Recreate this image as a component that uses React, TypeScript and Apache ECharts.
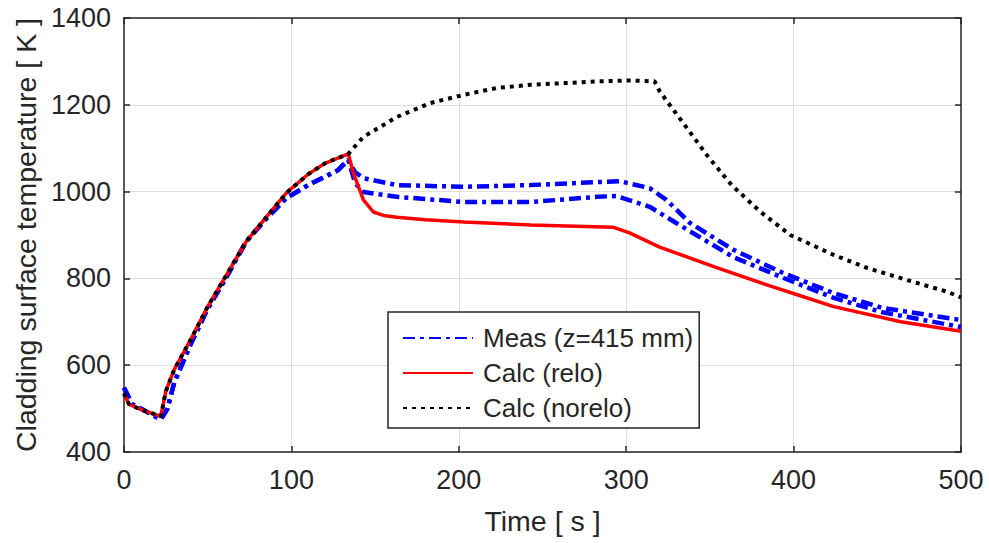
import React, { useEffect, useRef } from "react";
import * as echarts from "echarts";

const FONT = '"Liberation Sans", Arial, Helvetica, sans-serif';
const INK = "#262626";

// Measured (two thermocouples at z=415 mm)
const meas1T = [0, 5, 10, 22, 26, 30, 40, 50, 60, 73, 85, 97, 110, 120, 128, 134, 138, 143, 163, 203, 243, 283, 296, 314, 324, 338, 364, 394, 424, 453, 500];
const meas1V = [548, 510, 500, 475, 500, 560, 650, 730, 795, 885, 938, 985, 1015, 1034, 1050, 1073, 1045, 1031, 1015, 1011, 1015, 1022, 1024, 1008, 981, 928, 866, 812, 766, 732, 704];
const meas2T = [0, 5, 10, 22, 26, 30, 40, 50, 60, 73, 85, 97, 110, 120, 128, 134, 138, 143, 163, 203, 243, 283, 294, 314, 334, 364, 394, 424, 453, 500];
const meas2V = [548, 510, 500, 475, 500, 560, 650, 730, 795, 885, 938, 985, 1015, 1034, 1050, 1073, 1020, 999, 988, 976, 976, 988, 990, 965, 918, 849, 801, 755, 722, 688];

// Calc (relo)
const reloT = [0, 3, 10, 22, 25, 30, 40, 50, 60, 73, 85, 97, 110, 120, 134, 137, 143, 149, 155, 163, 180, 203, 243, 292, 302, 320, 354, 384, 404, 424, 464, 500];
const reloV = [535, 510, 498, 482, 540, 590, 660, 735, 800, 885, 941, 997, 1040, 1065, 1087, 1043, 981, 953, 945, 941, 935, 930, 923, 918, 905, 872, 825, 785, 760, 735, 700, 678];

// Calc (norelo)
const noreloT = [0, 3, 10, 22, 25, 30, 40, 50, 60, 73, 85, 97, 110, 120, 134, 143, 163, 183, 203, 223, 243, 263, 283, 302, 317, 320, 335, 349, 363, 380, 398, 424, 444, 468, 492, 500];
const noreloV = [535, 510, 498, 482, 540, 590, 660, 735, 800, 885, 941, 997, 1040, 1065, 1087, 1126, 1172, 1204, 1223, 1239, 1246, 1250, 1254, 1256, 1254, 1231, 1153, 1080, 1015, 954, 900, 854, 824, 796, 769, 756];

const xTicks = { min: 0, max: 500, interval: 100 };
const yTicks = { min: 400, max: 1400, interval: 200 };

const pairs = (t: number[], v: number[]) => t.map((x, i) => [x, v[i]]);

export default function App() {
  const ref = useRef<HTMLDivElement>(null);
  useEffect(() => {
    if (!ref.current) return;
    const chart = echarts.init(ref.current, undefined, { renderer: "svg" });
    const axisLine = { show: true, onZero: false, lineStyle: { color: INK, width: 1.5 } };
    const axisTick = { show: true, inside: true, length: 6, lineStyle: { color: INK, width: 1.5 } };
    const blueLine = { color: "#0000ff", width: 4.5, type: [12, 5, 4, 5] as any, cap: "butt" as const };
    chart.setOption({
      animation: false,
      backgroundColor: "#ffffff",
      textStyle: { fontFamily: FONT },
      grid: { left: 124, top: 18, right: 28, bottom: 91, containLabel: false },
      xAxis: [
        {
          type: "value", ...xTicks, position: "bottom",
          name: "Time [ s ]", nameLocation: "middle", nameGap: 54,
          nameTextStyle: { fontSize: 28.5, color: INK, fontFamily: FONT },
          axisLine, axisTick,
          axisLabel: { fontSize: 27, color: INK, margin: 14, fontFamily: FONT, formatter: (v: number) => String(v) },
          splitLine: { show: true, lineStyle: { color: "#dedede", width: 1 } },
        },
        {
          type: "value", ...xTicks, position: "top",
          axisLine, axisTick, axisLabel: { show: false }, splitLine: { show: false },
        },
      ],
      yAxis: [
        {
          type: "value", ...yTicks, position: "left",
          name: "Cladding surface temperature [ K ]", nameLocation: "middle", nameGap: 82,
          nameTextStyle: { fontSize: 28.5, color: INK, fontFamily: FONT },
          axisLine, axisTick,
          axisLabel: { fontSize: 27, color: INK, margin: 13, fontFamily: FONT, formatter: (v: number) => String(v) },
          splitLine: { show: true, lineStyle: { color: "#dedede", width: 1 } },
        },
        {
          type: "value", ...yTicks, position: "right",
          axisLine, axisTick, axisLabel: { show: false }, splitLine: { show: false },
        },
      ],
      legend: {
        orient: "vertical",
        left: 388,
        top: 312,
        data: ["Meas (z=415 mm)", "Calc (relo)", "Calc (norelo)"],
        backgroundColor: "#ffffff",
        borderColor: INK,
        borderWidth: 1.5,
        borderRadius: 0,
        padding: [13, 6, 7, 14],
        itemWidth: 70,
        itemHeight: 14,
        itemGap: 9,
        itemStyle: { opacity: 0 },
        textStyle: { fontSize: 26, color: INK, fontFamily: FONT, lineHeight: 26, padding: [0, 0, 0, 5] },
      },
      series: [
        {
          name: "Meas (z=415 mm)", type: "line", symbol: "none", data: pairs(meas1T, meas1V),
          lineStyle: blueLine, itemStyle: { color: "#0000ff" }, z: 2,
        },
        {
          name: "Meas (z=415 mm)", type: "line", symbol: "none", data: pairs(meas2T, meas2V),
          lineStyle: blueLine, itemStyle: { color: "#0000ff" }, z: 2,
        },
        {
          name: "Calc (relo)", type: "line", symbol: "none", data: pairs(reloT, reloV),
          lineStyle: { color: "#ff0000", width: 3.5, type: "solid" }, itemStyle: { color: "#ff0000" }, z: 3,
        },
        {
          name: "Calc (norelo)", type: "line", symbol: "none", data: pairs(noreloT, noreloV),
          lineStyle: { color: "#000000", width: 4, type: [4, 5] as any, cap: "butt" }, itemStyle: { color: "#000000" }, z: 4,
        },
      ],
    });
    return () => chart.dispose();
  }, []);
  return <div ref={ref} style={{ position: "fixed", left: 0, top: 0, width: 989, height: 543 }} />;
}
